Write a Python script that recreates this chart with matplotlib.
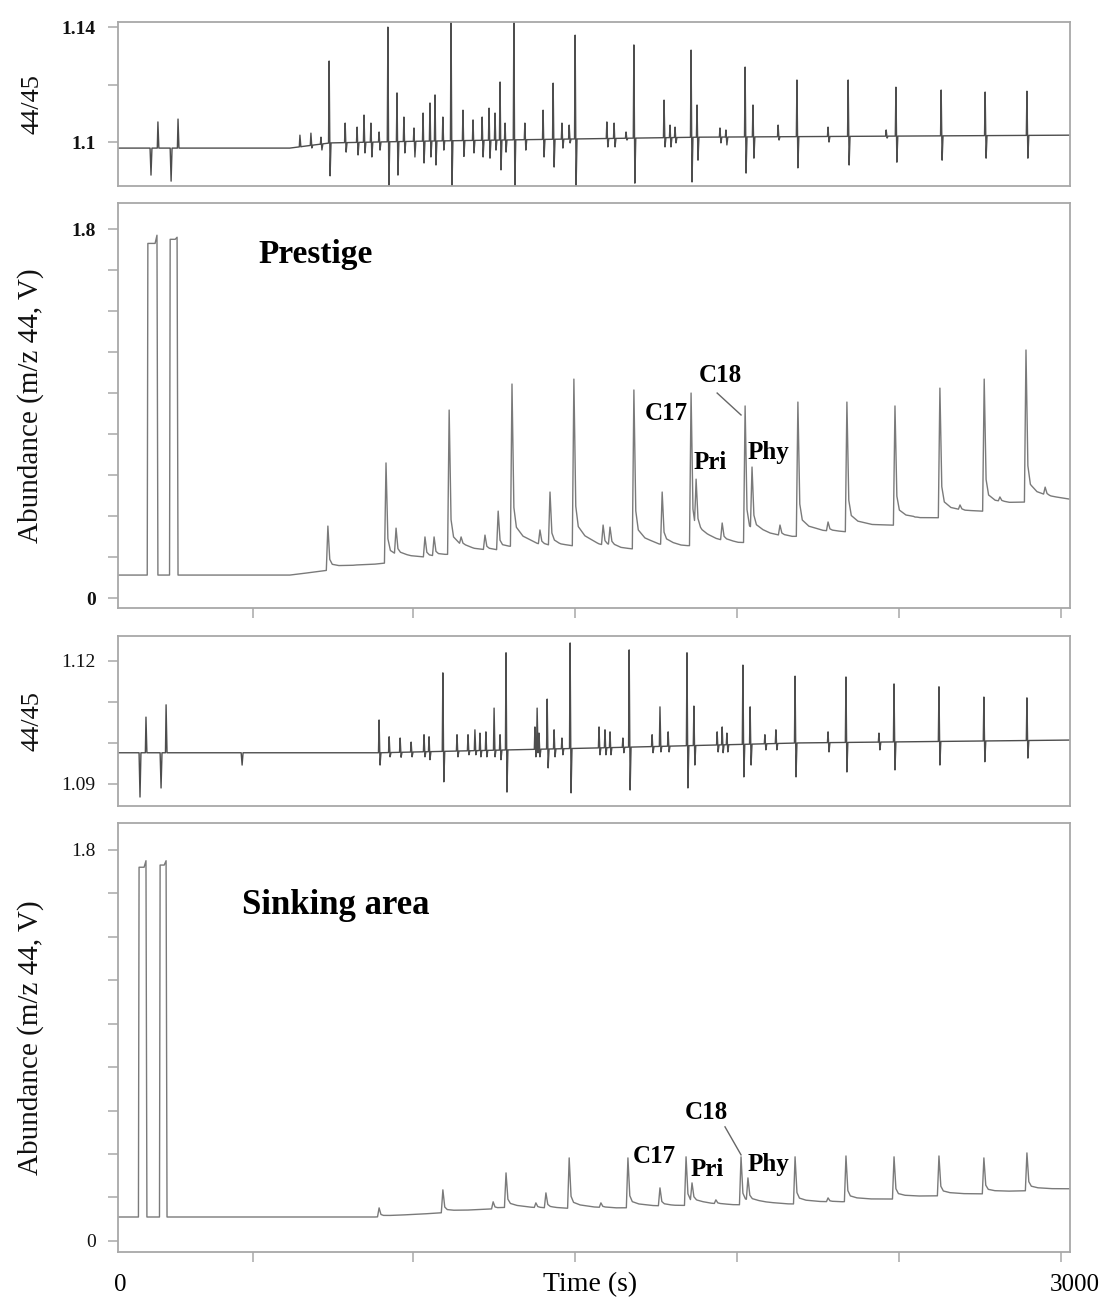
import numpy as np
import matplotlib
matplotlib.use('Agg')
import matplotlib.pyplot as plt

plt.rcParams['font.family'] = ['Liberation Serif', 'DejaVu Serif']

# ---- Prestige: 44/45 ratio trace ----
p_ratio_base_t = [0, 547, 675, 960, 1407, 1852, 3030]
p_ratio_base_v = [1.0979, 1.0979, 1.0997, 1.1003, 1.1010, 1.1017, 1.1024]
# (time, high, low) of the ratio swings
p_ratio_spike_t = [102, 127, 166, 191,
                   672, 859, 888, 1009, 1060, 1098, 1216, 1260, 1385, 1455,
                   1642, 1738, 1824, 1843, 1996, 2021, 2161, 2324, 2476, 2620,
                   2760, 2893,
                   579, 614, 646, 723, 761, 783, 805, 831, 910, 942, 971, 993,
                   1034, 1130, 1159, 1181, 1200, 1232, 1295, 1353, 1413, 1436,
                   1556, 1579, 1617, 1757, 1773, 1916, 1935, 2101, 2260, 2445]
p_ratio_spike_hi = [1.0979, 1.1070, 1.0979, 1.1080,
                    1.1282, 1.1400, 1.1171, 1.1164, 1.1450, 1.1111, 1.1209, 1.1430, 1.1205, 1.1372,
                    1.1338, 1.1146, 1.1320, 1.1129, 1.1261, 1.1129, 1.1216, 1.1216, 1.1191, 1.1181,
                    1.1174, 1.1177,
                    1.1024, 1.1031, 1.1017, 1.1066, 1.1052, 1.1094, 1.1066, 1.1035, 1.1087, 1.1049, 1.1101, 1.1136,
                    1.1087, 1.1077, 1.1087, 1.1118, 1.1101, 1.1066, 1.1066, 1.1111, 1.1066, 1.1059,
                    1.1070, 1.1066, 1.1035, 1.1059, 1.1052, 1.1049, 1.1042, 1.1059, 1.1052, 1.1042]
p_ratio_spike_lo = [1.0885, 1.0979, 1.0864, 1.0979,
                    1.0882, 1.0840, 1.0885, 1.0920, 1.0840, 1.0950, 1.0903, 1.0840, 1.0913, 1.0843,
                    1.0857, 1.0983, 1.0861, 1.0937, 1.0892, 1.0944, 1.0910, 1.0920, 1.0930, 1.0937,
                    1.0944, 1.0944,
                    1.0983, 1.0979, 1.0972, 1.0965, 1.0955, 1.0962, 1.0948, 1.0972, 1.0962, 1.0948, 1.0927, 1.0948,
                    1.0972, 1.0962, 1.0948, 1.0944, 1.0972, 1.0965, 1.0972, 1.0948, 1.0979, 1.0997,
                    1.0983, 1.0983, 1.1007, 1.0983, 1.0997, 1.0997, 1.0990, 1.1007, 1.1000, 1.1014]

# ---- Prestige: m/z 44 chromatogram ----
p_base_t = [0, 547, 600, 675, 760, 853, 1057, 1254, 1451, 1642, 1824, 1996, 2164, 2320, 2473,
            2616, 2756, 2890, 3030]
p_base_v = [0.112, 0.112, 0.122, 0.137, 0.156, 0.171, 0.205, 0.239, 0.244, 0.234, 0.249, 0.268,
            0.298, 0.322, 0.356, 0.390, 0.420, 0.463, 0.478]
p_pulse_start = [95, 166]
p_pulse_end = [124, 188]
p_pulse_top0 = [1.73, 1.75]
p_pulse_top1 = [1.77, 1.76]
p_peak_t = [668, 853, 885, 977, 1006, 1054, 1092, 1168, 1210, 1254, 1343, 1375, 1451,
            1544, 1566, 1642, 1732, 1824, 1840, 1923, 1996, 2018, 2107, 2164, 2260,
            2320, 2473, 2537, 2616, 2680, 2757, 2807, 2890, 2951]
p_peak_v = [0.351, 0.659, 0.341, 0.298, 0.298, 0.917, 0.298, 0.307, 0.424, 1.044, 0.332,
            0.517, 1.068, 0.356, 0.346, 1.015, 0.517, 1.000, 0.580, 0.366, 0.937, 0.639,
            0.356, 0.956, 0.371, 0.956, 0.937, 0.395, 1.024, 0.454, 1.068, 0.493, 1.210,
            0.541]

# ---- Sinking area: 44/45 ratio trace ----
s_ratio_base_t = [0, 834, 1537, 2170, 3030]
s_ratio_base_v = [1.0976, 1.0976, 1.0988, 1.1000, 1.1007]
s_ratio_spike_t = [67, 89, 134, 153,
                   392, 831, 863, 1034, 1197, 1235, 1334, 1366, 1439, 1627, 1725, 1811,
                   1833, 1989, 2012, 2155, 2317, 2470, 2613, 2756, 2893,
                   898, 933, 974, 990, 1079, 1114, 1136, 1152, 1171, 1216, 1327, 1340,
                   1388, 1413, 1531, 1550, 1566, 1607, 1700, 1751, 1907, 1923, 1938,
                   2059, 2094, 2260, 2422]
s_ratio_spike_hi = [1.0976, 1.1063, 1.0976, 1.1093,
                    1.0976, 1.1056, 1.1015, 1.1171, 1.1085, 1.1220, 1.1085, 1.1107, 1.1244, 1.1227,
                    1.1088, 1.1220, 1.1090, 1.1190, 1.1088, 1.1163, 1.1161, 1.1144, 1.1137, 1.1112,
                    1.1110,
                    1.1012, 1.1002, 1.1020, 1.1015, 1.1020, 1.1020, 1.1032, 1.1024, 1.1027, 1.1020,
                    1.1039, 1.1024, 1.1032, 1.1012, 1.1039, 1.1032, 1.1027, 1.1012, 1.1020, 1.1027,
                    1.1027, 1.1039, 1.1024, 1.1020, 1.1032, 1.1027, 1.1024]
s_ratio_spike_lo = [1.0868, 1.0976, 1.0890, 1.0976,
                    1.0946, 1.0946, 1.0966, 1.0905, 1.0966, 1.0880, 1.0976, 1.0939, 1.0878, 1.0885,
                    1.0978, 1.0890, 1.0946, 1.0917, 1.0946, 1.0917, 1.0929, 1.0934, 1.0946, 1.0954,
                    1.0963,
                    1.0965, 1.0966, 1.0966, 1.0959, 1.0966, 1.0971, 1.0971, 1.0966, 1.0966, 1.0959,
                    1.0966, 1.0966, 1.0966, 1.0971, 1.0971, 1.0971, 1.0971, 1.0976, 1.0976, 1.0978,
                    1.0978, 1.0976, 1.0978, 1.0983, 1.0983, 1.0978, 1.0983]

# ---- Sinking area: m/z 44 chromatogram ----
s_base_t = [0, 818, 1025, 1232, 1436, 1623, 1808, 1983, 2155, 2317, 2470, 2613, 2756, 2893, 3030]
s_base_v = [0.110, 0.110, 0.129, 0.152, 0.147, 0.152, 0.161, 0.166, 0.170, 0.180, 0.193,
            0.207, 0.216, 0.230, 0.239]
s_pulse_start = [67, 134]
s_pulse_end = [89, 153]
s_pulse_top0 = [1.72, 1.73]
s_pulse_top1 = [1.75, 1.75]
s_peak_t = [831, 1034, 1194, 1235, 1330, 1362, 1436, 1537, 1623, 1725, 1808, 1827, 1903,
            1983, 2005, 2155, 2260, 2317, 2470, 2613, 2756, 2893]
s_peak_v = [0.152, 0.235, 0.180, 0.313, 0.175, 0.221, 0.382, 0.175, 0.382, 0.244, 0.387,
            0.267, 0.189, 0.387, 0.290, 0.387, 0.198, 0.391, 0.387, 0.391, 0.382, 0.405]

x_ticks = [430, 940, 1455, 1970, 2485, 3000]


def build_ratio(base_t, base_v, spike_t, spike_hi, spike_lo):
    knots = []
    for t0, hi, lo in zip(spike_t, spike_hi, spike_lo):
        b = np.interp(t0, base_t, base_v)
        knots.append(([t0 - 2, t0, t0 + 3, t0 + 6], [0, hi - b, lo - b, 0]))
    t = np.unique(np.concatenate([base_t] + [k[0] for k in knots]))
    y = np.interp(t, base_t, base_v)
    for kt, kv in knots:
        y = y + np.interp(t, kt, kv, left=0, right=0)
    return t, y


def build_chrom(base_t, base_v, pulse_s, pulse_e, top0, top1, peak_t, peak_v):
    knots = []
    for s, e, a, c in zip(pulse_s, pulse_e, top0, top1):
        b = np.interp(s, base_t, base_v)
        knots.append(([s - 2, s, e - 6, e, e + 3], [0, a - b, a - b, c - b, 0]))
    # peaks in time order; height measured above what is already there
    for t0, apex in sorted(zip(peak_t, peak_v)):
        cur = np.interp(t0, base_t, base_v)
        for kt, kv in knots:
            cur += np.interp(t0, kt, kv, left=0, right=0)
        h = apex - cur
        knots.append(([t0 - 5, t0, t0 + 6, t0 + 14, t0 + 35, t0 + 80, t0 + 150],
                      [0, h, 0.24 * h, 0.12 * h, 0.07 * h, 0.03 * h, 0]))
    t = np.unique(np.concatenate([base_t] + [np.array(k[0], float) for k in knots]))
    y = np.interp(t, base_t, base_v)
    for kt, kv in knots:
        y = y + np.interp(t, kt, kv, left=0, right=0)
    return t, y


def style_axes(ax, bold):
    for sp in ax.spines.values():
        sp.set_color('#a8a8a8')
        sp.set_linewidth(1.3)
    ax.tick_params(direction='out', length=7, width=1.1, color='#a8a8a8',
                   labelcolor='#111111', labelsize=14, pad=9)
    if bold:
        for lab in ax.get_yticklabels():
            lab.set_fontweight('bold')
    ax.set_xlim(0, 3030)


fig = plt.figure(figsize=(11.05, 12.99), dpi=100)
ax1 = fig.add_axes([0.1068, 0.8568, 0.8615, 0.1263])
ax2 = fig.add_axes([0.1068, 0.5319, 0.8615, 0.3118])
ax3 = fig.add_axes([0.1068, 0.3795, 0.8615, 0.1309])
ax4 = fig.add_axes([0.1068, 0.0362, 0.8615, 0.3303])

ratio_color = '#4d4d4d'
chrom_color = '#7a7a7a'
lab_kw = dict(fontsize=18, fontweight='bold', ha='center', va='center')

# panel 1
t, y = build_ratio(p_ratio_base_t, p_ratio_base_v, p_ratio_spike_t, p_ratio_spike_hi, p_ratio_spike_lo)
ax1.plot(t, y, color=ratio_color, lw=1.0)
ax1.set_ylim(1.0847, 1.1418)
ax1.set_yticks([1.1, 1.12, 1.14])
ax1.set_yticklabels(['1.1', '', '1.14'])
ax1.set_xticks([])
style_axes(ax1, True)

# panel 2
t, y = build_chrom(p_base_t, p_base_v, p_pulse_start, p_pulse_end, p_pulse_top0, p_pulse_top1,
                   p_peak_t, p_peak_v)
ax2.plot(t, y, color=chrom_color, lw=1.0)
ax2.set_ylim(-0.049, 1.927)
ax2.set_yticks(np.arange(0, 1.81, 0.2))
ax2.set_yticklabels(['0'] + [''] * 8 + ['1.8'])
ax2.set_xticks(x_ticks)
ax2.set_xticklabels([])
style_axes(ax2, True)
ax2.text(630, 1.678, 'Prestige', fontsize=24, fontweight='bold', ha='center', va='center')
ax2.text(1744, 0.902, 'C17', **lab_kw)
ax2.text(1916, 1.088, 'C18', **lab_kw)
ax2.text(1884, 0.663, 'Pri', **lab_kw)
ax2.text(2069, 0.712, 'Phy', **lab_kw)
ax2.plot([1907, 1983], [1.0, 0.893], color='#666666', lw=1.0)

# panel 3
t, y = build_ratio(s_ratio_base_t, s_ratio_base_v, s_ratio_spike_t, s_ratio_spike_hi, s_ratio_spike_lo)
ax3.plot(t, y, color=ratio_color, lw=1.0)
ax3.set_ylim(1.0846, 1.1261)
ax3.set_yticks([1.09, 1.10, 1.11, 1.12])
ax3.set_yticklabels(['1.09', '', '', '1.12'])
ax3.set_xticks([])
style_axes(ax3, False)

# panel 4
t, y = build_chrom(s_base_t, s_base_v, s_pulse_start, s_pulse_end, s_pulse_top0, s_pulse_top1,
                   s_peak_t, s_peak_v)
ax4.plot(t, y, color=chrom_color, lw=1.0)
ax4.set_ylim(-0.051, 1.924)
ax4.set_yticks(np.arange(0, 1.81, 0.2))
ax4.set_yticklabels(['0'] + [''] * 8 + ['1.8'])
ax4.set_xticks(x_ticks)
ax4.set_xticklabels([])
style_axes(ax4, False)
ax4.text(694, 1.542, 'Sinking area', fontsize=25, fontweight='bold', ha='center', va='center')
ax4.text(1706, 0.387, 'C17', **lab_kw)
ax4.text(1872, 0.589, 'C18', **lab_kw)
ax4.text(1875, 0.327, 'Pri', **lab_kw)
ax4.text(2069, 0.350, 'Phy', **lab_kw)
ax4.plot([1932, 1983], [0.525, 0.396], color='#666666', lw=1.0)

tr = ax4.get_xaxis_transform()
ax4.text(6, -0.077, '0', transform=tr, fontsize=18, ha='center', va='center')
ax4.text(3046, -0.077, '3000', transform=tr, fontsize=18, ha='center', va='center')
ax4.text(0.496, -0.077, 'Time (s)', transform=ax4.transAxes, fontsize=20, ha='center', va='center')

for ax, lab, fs in [(ax1, '44/45', 19), (ax2, 'Abundance (m/z 44, V)', 21),
                    (ax3, '44/45', 19), (ax4, 'Abundance (m/z 44, V)', 21)]:
    ax.set_ylabel(lab, fontsize=fs, color='#111111')
    ax.yaxis.set_label_coords(-0.078, 0.5)

fig.savefig('out.png', dpi=100)
